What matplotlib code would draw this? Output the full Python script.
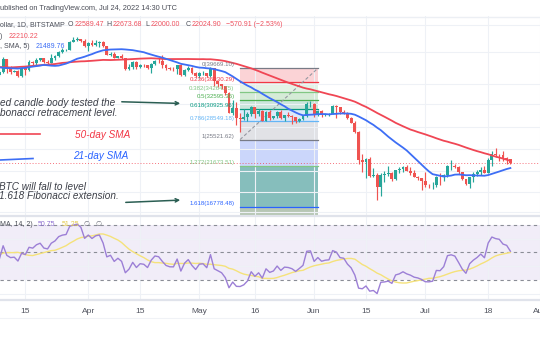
import numpy as np
import pandas as pd
import matplotlib
matplotlib.use("Agg")
import matplotlib.pyplot as plt
import matplotlib.dates as mdates
from matplotlib.lines import Line2D
from matplotlib.patches import FancyArrowPatch
from matplotlib.ticker import NullLocator, NullFormatter

plt.rcParams['font.family'] = ['Liberation Sans Narrow', 'Liberation Sans', 'DejaVu Sans']

# daily closes before the visible window (Jan 17 - Mar 6), only used to warm up SMA / RSI
warmup_close = [42250, 42375, 41744, 40680, 36457, 35030, 36276, 36654, 36954, 36852,
                37138, 37712, 38166, 37917, 38483,
                38743, 36952, 37154, 41500, 41441, 42412, 43841, 44118, 44347, 43566,
                42407, 42244, 42197, 42586, 44575, 43961, 40539, 40030, 40122, 38431,
                37075, 38286, 37296, 38332, 39214, 39105, 37710, 43193,
                44354, 43925, 42452, 39138, 39401, 38420]

# visible candles, Mar 7 - Jul 24 2022 (BTC/USD, Bitstamp, 1D)
close = [37988, 38731, 41942, 39437, 38795, 38905, 37850, 39667, 39338, 41143, 40951, 41801,
         42191, 41248, 41078, 42359, 42892, 43960, 44349, 44501, 46821, 47129, 47465, 47063, 45539,
         46307, 45813, 46408, 46581, 45498, 43171, 43445, 42253, 42754, 42159, 39531, 40074,
         41148, 39942, 40553, 40424, 39717, 40827, 41502, 41375, 40527, 39741, 39479, 39470,
         40458, 38118, 39242, 39773, 38609, 37714,
         38469, 38529, 37750, 39698, 36575, 36041, 35502, 34060, 30097, 31017, 29104, 29031,
         29284, 29863, 31306, 29855, 30431, 28708, 30304, 29201, 29445, 30293, 29103, 29653,
         29562, 29268, 28628, 29031, 29468, 31734, 31802,
         29805, 30452, 29700, 29865, 29920, 31373, 31126, 30214, 30112, 29083, 28360, 26763,
         22487, 22206, 22573, 20381, 20471, 19018, 20553, 20600, 20711, 19987, 21086, 21231,
         21502, 21027, 20735, 20280, 20104, 19785,
         19269, 19243, 19297, 20231, 20190, 20548, 21637, 21731, 21592, 20860, 19970, 19323,
         20212, 20569, 20836, 21190, 20779, 22485, 23389, 23231, 23164, 22714, 22589.47, 22024.90]
high = [39500, 39300, 42600, 42000, 40200, 39360, 39300, 39900, 39900, 41700, 41470, 42300,
        42400, 42300, 41700, 43350, 43000, 44200, 45100, 44800, 46900, 48200, 48100, 47700, 47600,
        46700, 47200, 47400, 46900, 47100, 45500, 43900, 43950, 42800, 43400, 42400, 40700,
        41500, 41500, 40850, 40700, 40600, 41100, 41750, 42200, 42950, 40800, 39950, 39900,
        40600, 40800, 39450, 40350, 39950, 38800,
        38700, 39100, 38600, 39950, 39800, 36600, 36100, 35500, 34200, 32600, 32100, 30000,
        30900, 30300, 31400, 31300, 30750, 30650, 30500, 30700, 29600, 30450, 30650, 29800,
        30200, 29800, 29350, 29200, 29550, 32200, 32350,
        31950, 30650, 30650, 29950, 30150, 31700, 31550, 31300, 30650, 30300, 29400, 28550,
        26900, 23350, 22750, 22950, 21350, 20800, 20800, 21000, 21700, 20850, 21200, 21500,
        21600, 21850, 21500, 21200, 20400, 20150,
        20850, 19400, 19650, 20350, 20700, 20650, 21850, 22450, 21950, 21600, 20880, 20050,
        20300, 20850, 21200, 21550, 21650, 22700, 23750, 24250, 23400, 23750, 22950, 22673.68]
low = [37160, 37880, 38650, 38550, 38250, 38660, 37590, 37580, 38120, 38900, 40540, 40200,
       41500, 40900, 40500, 40900, 41800, 42600, 43600, 44100, 44400, 46650, 46950, 46600, 45200,
       44200, 45650, 45550, 45150, 45400, 43100, 42750, 42150, 42150, 42000, 39200, 39250,
       39550, 39600, 39800, 40000, 39550, 38550, 40570, 40900, 39800, 39200, 39300, 39000,
       38200, 37900, 37900, 38900, 38200, 37600,
       37400, 38100, 37500, 37700, 35600, 35300, 34800, 33700, 30000, 29800, 28000, 26700,
       28800, 28700, 29500, 29100, 29500, 28700, 28700, 28800, 28950, 29250, 28900, 28650,
       29300, 28050, 28300, 28450, 28800, 29300, 31250,
       29350, 29600, 29350, 29500, 29500, 29900, 29250, 29900, 29950, 28900, 28200, 26600,
       22000, 20900, 20100, 20250, 20250, 17600, 17950, 19650, 20350, 19800, 19900, 20750,
       20900, 20950, 20500, 20200, 19850, 18650,
       19000, 18950, 18800, 19050, 19300, 19800, 20250, 21200, 21350, 20650, 19900, 19250,
       18950, 19650, 20400, 20500, 20750, 20750, 21600, 22950, 22350, 22400, 22000, 22000.00]

# fibonacci retracement drawn on the chart
fib_ratio = ["0", "0.236", "0.382", "0.5", "0.618", "0.786", "1", "1.272", "1.618"]
fib_price = [39669.10, 36330.29, 34264.75, 32595.36, 30925.96, 28549.18, 25521.62, 21673.51, 16778.48]
fib_start, fib_end = "2022-05-12", "2022-06-02"

tick_dates = ["2022-03-15", "2022-04-01", "2022-04-15", "2022-05-01", "2022-05-16",
              "2022-06-01", "2022-06-15", "2022-07-01", "2022-07-18", "2022-08-01"]
tick_labels = ["15", "Apr", "15", "May", "16", "Jun", "15", "Jul", "18", "Aug"]
price_grid = [16270, 18480, 21000, 24030, 27630, 31740, 36000, 43800, 51860]

UP, DOWN = '#26a69a', '#ef5350'
GRID = '#eef1f6'

close = np.array(close, float)
high = np.array(high, float)
low = np.array(low, float)
open_ = np.r_[warmup_close[-1], close[:-1]]
high = np.maximum(high, np.maximum(open_, close))
low = np.minimum(low, np.minimum(open_, close))
dates = pd.date_range("2022-03-07", periods=len(close), freq="D")
x = mdates.date2num(dates)

all_close = pd.Series(np.r_[warmup_close, close],
                      index=pd.date_range("2022-01-17", periods=len(warmup_close) + len(close), freq="D"))
xa = mdates.date2num(all_close.index)
sma50 = all_close.rolling(50).mean()
sma21 = all_close.rolling(21).mean()
delta = all_close.diff()
gain = delta.clip(lower=0).ewm(alpha=1 / 14, adjust=False).mean()
loss = (-delta.clip(upper=0)).ewm(alpha=1 / 14, adjust=False).mean()
rsi = 100 - 100 / (1 + gain / loss)
rsi_ma = rsi.rolling(14).mean()

W, H = 540, 340
def fx(v): return v / W
def fy(v): return 1 - v / H

fig = plt.figure(figsize=(5.4, 3.4), dpi=100)
ax = fig.add_axes([0, fy(216), 1, 200 / H])
ax_r = fig.add_axes([0, fy(300), 1, 84 / H], sharex=ax)

apr1 = mdates.date2num(pd.Timestamp("2022-04-01"))
ax.set_xlim(apr1 - 89.3 / 3.745, apr1 + 450.7 / 3.745)
ax.set_yscale('log')
ax.set_ylim(15898, 54835)
ax.yaxis.set_minor_locator(NullLocator())
ax.yaxis.set_minor_formatter(NullFormatter())
ax.set_yticks(price_grid)
xt = mdates.date2num(pd.to_datetime(tick_dates))
ax.set_xticks(xt)
ax.grid(True, color=GRID, lw=0.8, zorder=0)
ax.tick_params(length=0, labelleft=False, labelbottom=False)

# fibonacci zones
fx0, fx1 = mdates.date2num(pd.Timestamp(fib_start)), mdates.date2num(pd.Timestamp(fib_end))
zone_fill = ['#fbd3d6', '#e4f2e5', '#d5ebd7', '#cce6dc', '#dbe9fa', '#e1e2e6', '#cbd6fb', '#86bebc', '#b7c7b5']
line_cols = ['#787b86', '#f23645', '#81c784', '#4caf50', '#089981', '#64b5f6', '#787b86', '#81c784', '#2962ff']
edges = fib_price + [15898]
for i in range(len(fib_price)):
    ax.fill_between([fx0, fx1], edges[i], edges[i + 1], color=zone_fill[i], lw=0, zorder=1)
for r, p, c in zip(fib_ratio, fib_price, line_cols):
    ax.plot([fx0, fx1], [p, p], color=c, lw=0.9, zorder=2)
    ax.annotate(f"{r}({p:.2f})", xy=(fx0, p), xytext=(-4, 0.6), textcoords='offset points',
                ha='right', va='bottom', fontsize=4.4, color=c, zorder=6)
ax.plot([fx0, fx1], [fib_price[6], fib_price[0]], color='#9598a1', lw=0.8, ls=(0, (3, 2)), zorder=2)

# candles
col = np.where(close >= open_, UP, DOWN)
ax.vlines(x, low, high, colors=col, lw=0.85, zorder=3)
ax.bar(x, np.abs(close - open_), bottom=np.minimum(open_, close), width=0.78,
       color=col, lw=0, zorder=4)

ax.plot(xa, sma50, color='#f04654', lw=1.3, zorder=5)
ax.plot(xa, sma21, color='#3d6ef5', lw=1.3, zorder=5)
ax.axhline(close[-1], color='#f23645', lw=0.7, ls=(0, (1, 2)), alpha=0.7, zorder=3)
for s in ax.spines.values():
    s.set_visible(False)

# RSI pane
ax_r.set_ylim(15.5, 76.5)
ax_r.set_yticks([20, 40, 60])
ax_r.grid(True, color=GRID, lw=0.8, zorder=0)
ax_r.axhspan(30, 70, color='#7e57c2', alpha=0.1, lw=0, zorder=1)
for lvl in (30, 50, 70):
    ax_r.axhline(lvl, color='#8a8d96', lw=0.8, ls=(0, (3, 3)), zorder=2)
ax_r.plot(xa, rsi_ma, color='#f5e27a', lw=1.0, zorder=3)
ax_r.plot(xa, rsi, color='#9c7fd6', lw=1.0, zorder=4)
ax_r.tick_params(length=0, labelleft=False, pad=5.5, labelsize=6, labelcolor='#50535e')
ax_r.set_xticks(xt)
ax_r.set_xticklabels(tick_labels)
for s in ax_r.spines.values():
    s.set_visible(False)

# pane borders
for yy, c, w in [(16.5, '#eceff4', 1.0), (216, '#e0e3eb', 1.6), (300, '#e0e3eb', 1.6), (317.5, '#f0f2f6', 0.8)]:
    fig.add_artist(Line2D([0, 1], [fy(yy), fy(yy)], color=c, lw=w, transform=fig.transFigure))

renderer = fig.canvas.get_renderer()

def t(xp, yp, s, c, fs=5.0, **kw):
    return fig.text(fx(xp), fy(yp), s, color=c, fontsize=fs, ha='left', va='center', **kw)

def row(yp, pieces, fs=5.0):
    # pieces laid left to right at their target x, pushed right if the previous one is wider
    end = -10
    for xp, s, c in pieces:
        txt = t(max(xp, end + 1.5), yp, s, c, fs)
        end = txt.get_window_extent(renderer).x1

grey, red = '#4a4d57', '#f0525f'
t(0.5, 8, "ublished on TradingView.com, Jul 24, 2022 14:30 UTC", grey, fs=5.3)
row(25, [(0, "ollar, 1D, BITSTAMP", grey),
         (68, "O", grey), (72, "22589.47", red),
         (101.5, "H", grey), (105.5, "22673.68", red),
         (145.5, "L", grey), (149, "22000.00", red),
         (185.5, "C", grey), (189.5, "22024.90", red),
         (226, "\u2212570.91 (\u22122.53%)", red)])
row(36, [(0, ")", grey), (9, "22210.22", red)])
row(47, [(0, ", SMA, 5)", grey), (36, "21489.76", '#3d6ef5')])
row(225, [(0, "MA, 14, 2)", grey), (38, "50.75", '#8e6fd1'), (62, "51.25", '#e3c94a'),
          (84, "\u2205", '#6a6d78'), (96, "\u2205", '#6a6d78')])

# annotations
ink = '#3b3e47'
t(0.5, 103.5, "ed candle body tested the", ink, fs=7.2, style='italic')
t(-0.5, 113.5, "bonacci retracement level.", ink, fs=7.2, style='italic')
t(75, 135, "50-day SMA", '#f23645', fs=7.2, style='italic')
t(73, 156.5, "21-day SMA", '#2962ff', fs=7.2, style='italic')
t(-1, 186.5, "BTC will fall to level", ink, fs=7.2, style='italic')
t(-1, 196.5, "1.618 Fibonacci extension.", ink, fs=7.2, style='italic')
fig.add_artist(Line2D([0, fx(40)], [fy(134), fy(134)], color='#f04654', lw=1.2, transform=fig.transFigure))
fig.add_artist(Line2D([0, fx(33)], [fy(160), fy(158.5)], color='#3d6ef5', lw=1.2, transform=fig.transFigure))
arrow_c = '#2b5e53'
for (x0, y0), (x1, y1) in [((119, 101.7), (183, 103.5)), ((123, 202.5), (183, 200))]:
    fig.add_artist(FancyArrowPatch((fx(x0), fy(y0)), (fx(x1), fy(y1)), transform=fig.transFigure,
                                   arrowstyle='->', mutation_scale=6, lw=1.1, color=arrow_c))

fig.savefig("out.png", dpi=100, facecolor='white')
